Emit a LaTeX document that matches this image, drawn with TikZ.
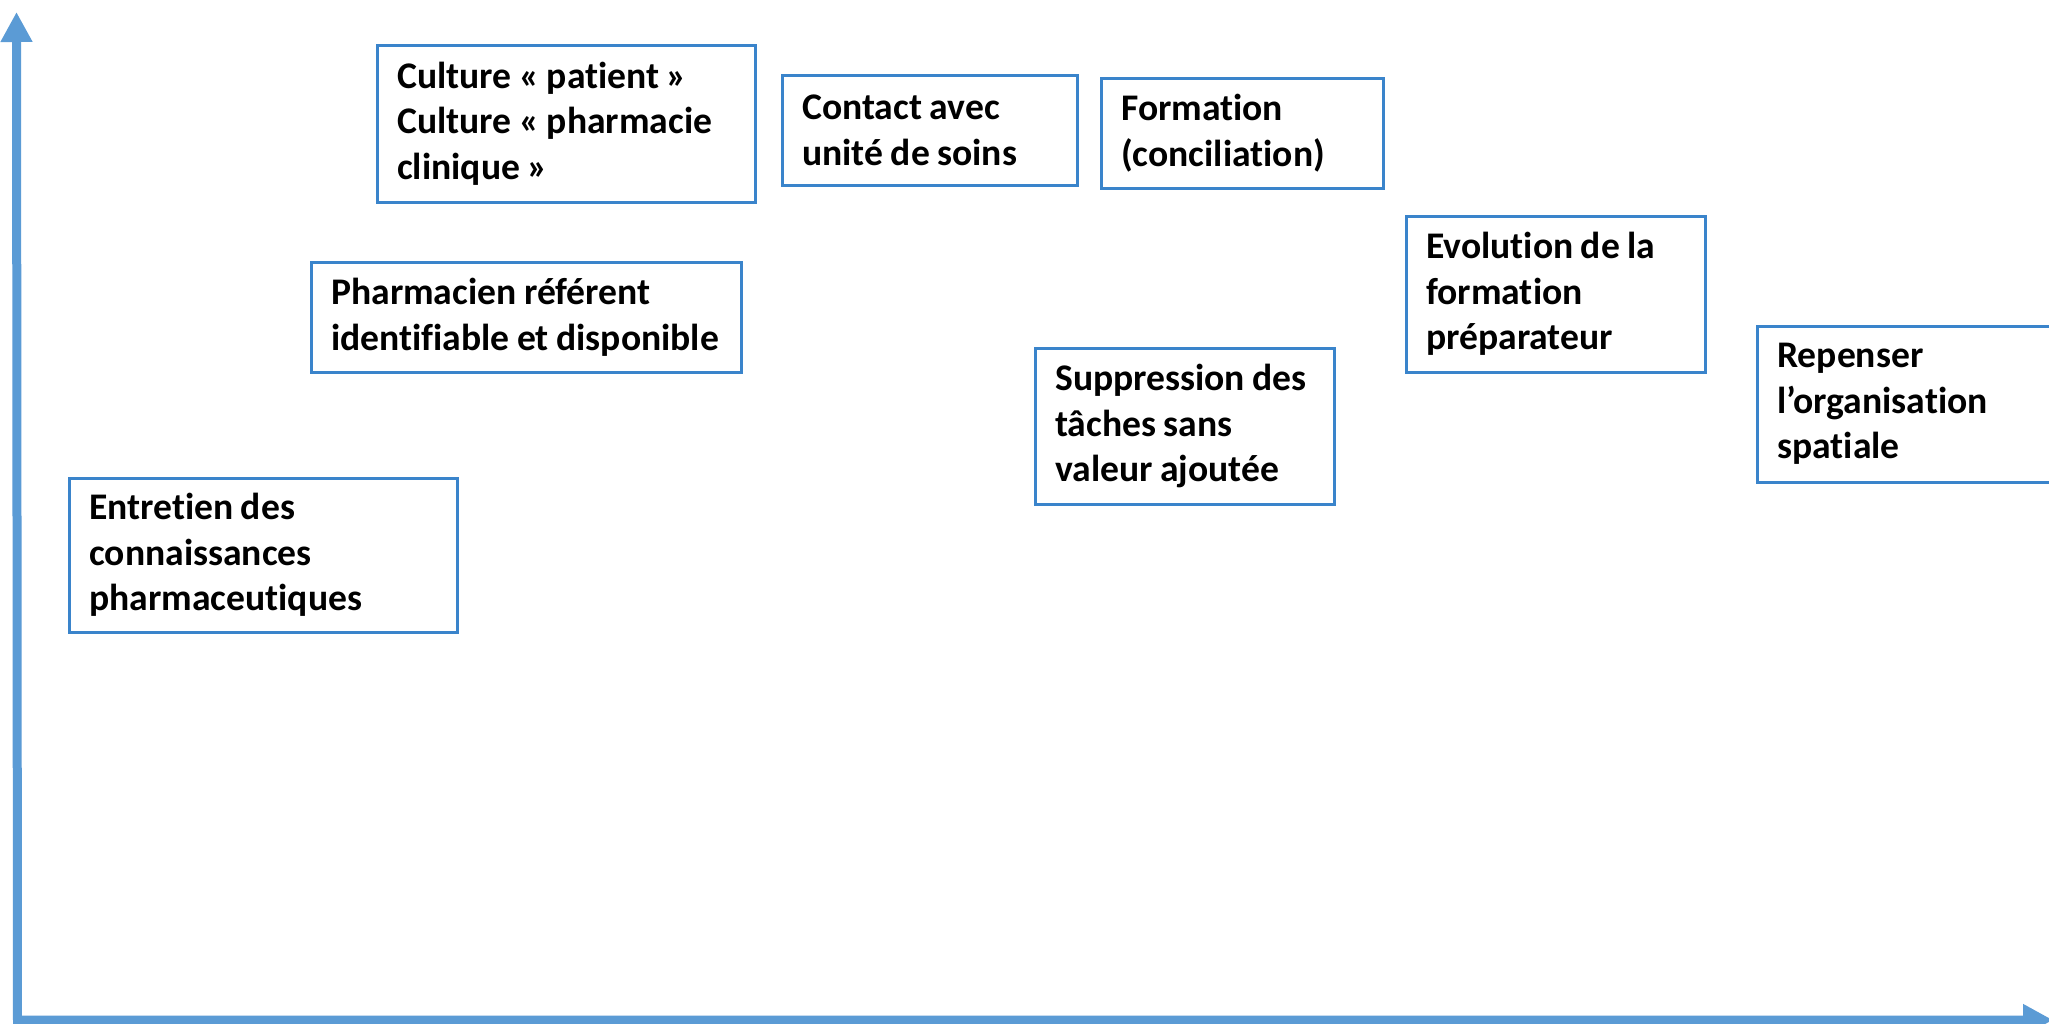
\documentclass[tikz,border=0pt]{standalone}
\usepackage{fontspec}
\setmainfont[Ligatures=NoCommon]{Carlito}
\usetikzlibrary{arrows.meta}
\definecolor{axisblue}{RGB}{91,155,213}
\definecolor{boxblue}{RGB}{58,132,203}
\newcommand\tightspacing{\spaceskip=7.5pt\relax}
\begin{document}
\begin{tikzpicture}[x=1pt,y=-1pt,
  box/.style={draw=boxblue, line width=2.5pt, anchor=north west, inner xsep=20pt, inner ysep=0pt,
    align=left, font=\fontsize{37.6}{45.5}\selectfont\bfseries, text=black,
    execute at begin node=\tightspacing},
  axis/.style={draw=axisblue, line width=9pt, line join=miter,
    {Triangle[length=30pt,width=30pt]}-{Triangle[length=30pt,width=30pt]}}]
\useasboundingbox (0,0) rectangle (2049,1023);
\fill[white] (0,0) rectangle (2049,1023);
\clip (0,0) rectangle (2049,1023);
% axes
\coordinate (ytip) at (16.5,12);
\coordinate (orig) at (17.5,1020);
\coordinate (xtip) at (2053,1020);
\draw[axis] (ytip) -- (orig) -- (xtip);
% boxes
\node[box, minimum width=378pt, minimum height=157pt, text width=338pt] (cult) at (376,44)
  {Culture «~patient~»\\Culture «~pharmacie\\clinique~»};
\node[box, minimum width=295pt, minimum height=110pt, text width=255pt] (contact) at (781,74)
  {Contact avec\\unité de soins};
\node[box, minimum width=282pt, minimum height=110pt, text width=242pt] (form) at (1100,77)
  {Formation\\(conciliation)};
\node[box, minimum width=430pt, minimum height=110pt, text width=390pt] (pharm) at (310,261)
  {Pharmacien référent\\\mbox{identifiable et disponible}};
\node[box, minimum width=299pt, minimum height=156pt, text width=259pt] (evol) at (1405,215)
  {Evolution de la\\formation\\préparateur};
\node[box, minimum width=299pt, minimum height=156pt, text width=259pt] (supp) at (1034,347)
  {Suppression des\\tâches sans\\valeur ajoutée};
\node[box, minimum width=310pt, minimum height=156pt, text width=270pt] (rep) at (1756,325)
  {Repenser\\l’organisation\\spatiale};
\node[box, minimum width=388pt, minimum height=154pt, text width=348pt] (entr) at (68,477)
  {Entretien des\\connaissances\\pharmaceutiques};
\end{tikzpicture}
\end{document}
